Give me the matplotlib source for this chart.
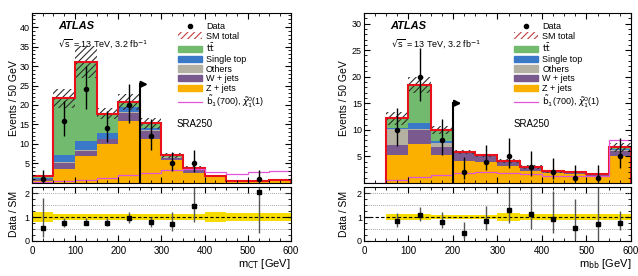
import numpy as np
import matplotlib
matplotlib.use("Agg")
import matplotlib.pyplot as plt
from matplotlib.patches import Patch
from matplotlib.lines import Line2D
from matplotlib.ticker import MultipleLocator

plt.rcParams['font.family'] = ['Liberation Sans', 'DejaVu Sans']
plt.rcParams['hatch.linewidth'] = 0.8

edges = np.arange(0, 601, 50)

# ---- m_CT (left) ----
l_z = [0.5, 3.7, 6.8, 9.9, 15.8, 11.3, 5.9, 2.6, 1.5, 0.4, 0.45, 0.6]
l_w = [0.5, 1.5, 1.5, 1.3, 2.2, 2.0, 0.6, 1.0, 0.1, 0.05, 0.05, 0.1]
l_oth = [0.1, 0.3, 0.2, 0.2, 0.3, 0.2, 0.1, 0.1, 0.05, 0.02, 0.02, 0.02]
l_st = [0.3, 1.6, 2.3, 1.5, 1.2, 0.6, 0.1, 0.1, 0.05, 0.02, 0.02, 0.02]
l_tt = [0.4, 14.6, 20.2, 4.9, 1.2, 1.2, 0.4, 0.1, 0.1, 0.01, 0.01, 0.01]
l_unc = [0.2, 0.115, 0.13, 0.08, 0.1, 0.095, 0.08, 0.1, 0.2, 0.15, 0.15, 0.15]
l_band = [0.21, 0.13, 0.13, 0.12, 0.12, 0.12, 0.12, 0.13, 0.2, 0.15, 0.15, 0.15]
l_sig = [0.25, 0.5, 0.7, 1.2, 2.0, 2.6, 3.3, 3.5, 2.8, 2.4, 2.9, 3.2]
l_data_x = [25, 75, 125, 175, 225, 275, 325, 375, 525]
l_data = [1, 16, 24, 14, 20, 12, 5, 5, 1]
l_data_lo = [0.2, 12, 19, 10.5, 15.5, 8.5, 3, 2.8, 0.2]
l_data_hi = [3.3, 21, 30, 18.5, 25.5, 16.3, 8, 8.5, 3.3]
l_ratio = [0.55, 0.73, 0.77, 0.77, 0.97, 0.79, 0.7, 1.45, 2.05]
l_ratio_lo = [0.15, 0.6, 0.65, 0.62, 0.75, 0.6, 0.4, 0.8, 0.35]
l_ratio_hi = [1.8, 0.95, 0.95, 0.95, 1.22, 1.0, 1.2, 2.3, 2.3]
l_cut = 250

# ---- m_bb (right) ----
r_z = [0, 5.3, 7.4, 5.3, 4.1, 3.9, 3.2, 2.3, 1.8, 1.7, 1.3, 5.0]
r_w = [0, 1.8, 2.6, 1.5, 1.5, 1.2, 0.8, 0.5, 0.3, 0.3, 0.3, 1.0]
r_oth = [0, 3.15, 0.25, 0.8, 0.1, 0.05, 0.05, 0.05, 0.05, 0.02, 0.02, 0.3]
r_st = [0, 0.15, 0.95, 0.3, 0.05, 0.02, 0.02, 0.05, 0.02, 0.02, 0.02, 0.1]
r_tt = [0, 1.8, 7.3, 2.1, 0.05, 0.03, 0.03, 0.1, 0.03, 0.02, 0.02, 0.3]
r_unc = [0, 0.1, 0.08, 0.07, 0.07, 0.06, 0.09, 0.12, 0.12, 0.12, 0.12, 0.12]
r_band = [0, 0.11, 0.11, 0.1, 0.1, 0.1, 0.17, 0.14, 0.14, 0.13, 0.13, 0.12]
r_sig = [0, 0.5, 1.06, 1.5, 1.9, 2.0, 1.9, 1.7, 1.4, 1.25, 1.3, 8.1]
r_data_x = [75, 125, 175, 225, 275, 325, 375, 425, 475, 525, 575]
r_data = [10, 20, 8, 2, 4, 5, 3, 2, 1, 1, 5]
r_data_lo = [7, 15.5, 5.2, 0.7, 2.4, 2.8, 1.3, 0.7, 0.2, 0.2, 2.8]
r_data_hi = [14.2, 25.5, 12, 4.8, 7.2, 8.5, 6, 4.7, 3.3, 3.3, 8.5]
r_ratio = [0.82, 1.08, 0.8, 0.35, 0.82, 1.3, 1.12, 0.9, 0.55, 0.7, 0.75]
r_ratio_lo = [0.6, 0.85, 0.55, 0.1, 0.45, 0.75, 0.5, 0.35, 0.1, 0.1, 0.45]
r_ratio_hi = [1.15, 1.4, 1.2, 0.8, 1.47, 2.3, 2.3, 2.1, 1.75, 2.3, 1.25]
r_cut = 200

c_z = '#fbb000'
c_w = '#7a5a8e'
c_oth = '#b4b1a3'
c_st = '#3a79c8'
c_tt = '#72bb6e'
c_sig = '#e055d8'
c_band = '#f7dc00'

fig = plt.figure(figsize=(6.38, 2.76), dpi=100)


def style(ax):
    ax.tick_params(direction='in', which='both', top=True, right=True, labelsize=7)
    ax.tick_params(axis='y', labelsize=6.5, pad=1.5)
    ax.tick_params(which='major', length=4)
    ax.tick_params(which='minor', length=2)
    ax.xaxis.set_minor_locator(MultipleLocator(25))


def panel(x0, x1, comps, unc, band, sig, dx, dv, dlo, dhi, rat, rlo, rhi, cut, ah, ymax,
          xlab, first, labx):
    ax = fig.add_axes([x0, 0.337, x1 - x0, 0.953 - 0.337])
    rx = fig.add_axes([x0, 0.127, x1 - x0, 0.322 - 0.127])
    base = np.zeros(12)
    cols = [c_z, c_w, c_oth, c_st, c_tt]
    for vals, c in zip(comps, cols):
        vals = np.array(vals, float)
        ax.stairs(base + vals, edges, baseline=base.copy(), fill=True, color=c, lw=0)
        base = base + vals
    tot = base
    u = np.array(unc) * tot
    m = slice(first, 12)
    ax.stairs((tot + u)[m], edges[first:], baseline=(tot - u)[m], fill=True,
              facecolor='none', edgecolor='#2e2e2e', hatch='/////', lw=0)
    ax.stairs(tot[m], edges[first:], baseline=0, color='#e8101a', lw=1.5)
    ax.stairs(sig, edges, color=c_sig, lw=0.9)
    dv = np.array(dv, float)
    ax.errorbar(dx, dv, yerr=[dv - np.array(dlo), np.array(dhi) - dv], fmt='o', color='black',
                ms=3, elinewidth=1, capsize=0)
    ax.plot([cut, cut], [0, ah], color='black', lw=1.5)
    ax.annotate('', xy=(cut + 25, ah), xytext=(cut - 1, ah),
                arrowprops=dict(arrowstyle='-|>', color='black', lw=1.5, mutation_scale=9))
    ax.set_xlim(0, 600)
    ax.set_ylim(0, ymax)
    ax.yaxis.set_minor_locator(MultipleLocator(1))
    ax.set_yticks(np.arange(5, ymax, 5))
    ax.set_xticklabels([])
    style(ax)
    ax.set_ylabel('Events / 50 GeV', fontsize=7.5)
    ax.yaxis.set_label_coords(labx, 0.5)
    ax.text(0.1, 0.905, 'ATLAS', transform=ax.transAxes, fontsize=8, fontweight='bold',
            fontstyle='italic')
    ax.text(0.1, 0.8, r'$\sqrt{\mathrm{s}}$ = 13 TeV, 3.2 fb$^{-1}$', transform=ax.transAxes,
            fontsize=6.5)
    ax.text(0.56, 0.33, 'SRA250', transform=ax.transAxes, fontsize=7)
    handles = [Line2D([], [], marker='o', color='black', ls='none', ms=3),
               Patch(facecolor='none', edgecolor='#c04040', hatch='/////', lw=0),
               Patch(color=c_tt), Patch(color=c_st), Patch(color=c_oth), Patch(color=c_w),
               Patch(color=c_z), Line2D([], [], color=c_sig, lw=0.9)]
    labels = ['Data', 'SM total', r'$\mathrm{t\bar{t}}$', 'Single top', 'Others', 'W + jets',
              'Z + jets', r'$\tilde{\mathrm{b}}_1$(700), $\tilde{\chi}^0_1$(1)']
    ax.legend(handles, labels, loc='upper left', bbox_to_anchor=(0.54, 0.985), frameon=False,
              fontsize=6.5, handlelength=2.6, handleheight=0.7, labelspacing=0.08,
              handletextpad=0.5, borderpad=0.2)

    # ratio
    b = np.array(band)
    rx.stairs((1 + b)[m], edges[first:], baseline=(1 - b)[m], fill=True, color=c_band, lw=0)
    for yv in [0.5, 1.5, 2.0]:
        rx.axhline(yv, color='#888888', lw=0.6, ls=(0, (1, 1.5)))
    rx.axhline(1, color='black', lw=0.8, ls=(0, (3, 2)))
    rat = np.array(rat, float)
    rx.errorbar(dx, rat, yerr=[rat - np.array(rlo), np.array(rhi) - rat], fmt='s', color='black',
                ms=2.5, elinewidth=1, capsize=0, ecolor='#555555')
    rx.set_xlim(0, 600)
    rx.set_ylim(0, 2.25)
    rx.set_yticks([0, 1, 2])
    rx.yaxis.set_minor_locator(MultipleLocator(0.25))
    style(rx)
    rx.set_ylabel('Data / SM', fontsize=7.5)
    rx.yaxis.set_label_coords(labx, 0.5)
    rx.set_xlabel(xlab, fontsize=8, loc='right', labelpad=1)
    return ax, rx


panel(0.05, 0.456, [l_z, l_w, l_oth, l_st, l_tt], l_unc, l_band, l_sig, l_data_x, l_data,
      l_data_lo, l_data_hi, l_ratio, l_ratio_lo, l_ratio_hi, l_cut, 25.3, 43.6,
      r'm$_{\mathrm{CT}}$ [GeV]', 0, -0.05)
panel(0.5705, 0.989, [r_z, r_w, r_oth, r_st, r_tt], r_unc, r_band, r_sig, r_data_x, r_data,
      r_data_lo, r_data_hi, r_ratio, r_ratio_lo, r_ratio_hi, r_cut, 15, 32,
      r'm$_{\mathrm{bb}}$ [GeV]', 1, -0.055)

fig.savefig('out.png', dpi=100)
